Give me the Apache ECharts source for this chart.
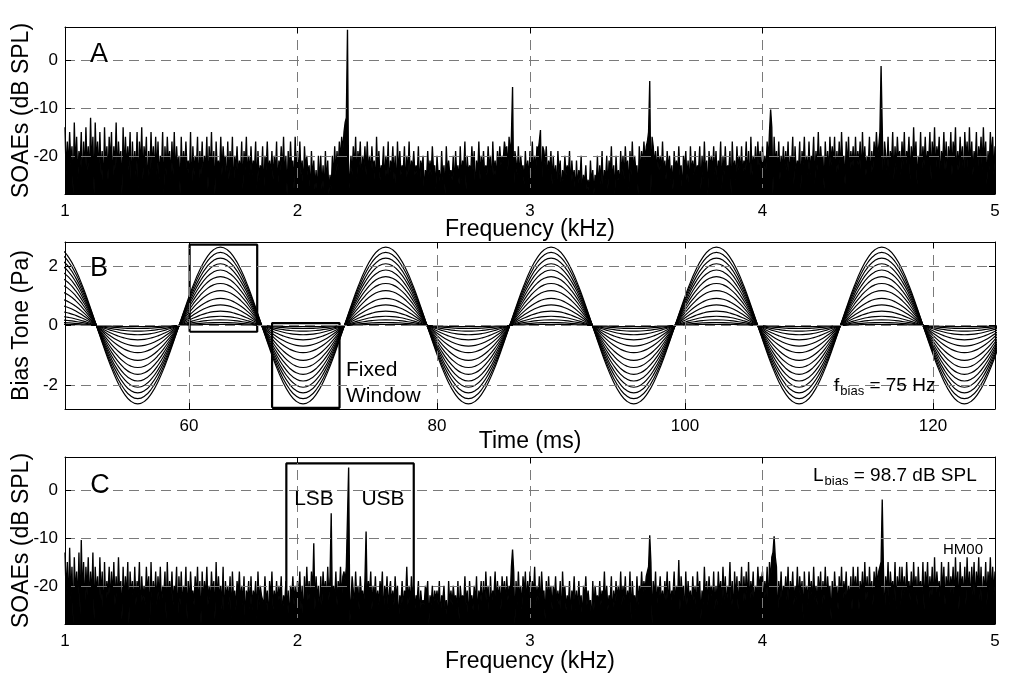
<!DOCTYPE html>
<html><head><meta charset="utf-8">
<script src="https://cdn.jsdelivr.net/npm/echarts@6/dist/echarts.min.js"></script>
<style>html,body{margin:0;padding:0;background:#fff}#c{width:1016px;height:680px}</style>
</head><body><div id="c"></div>
<script>
// ---------- data ----------
const freqTicksKHz = [1, 2, 3, 4, 5];
const dbTicks = [-20, -10, 0];
const timeTicksMs = [60, 80, 100, 120];
const paTicks = [-2, 0, 2];
const freqGridKHz = [2, 3, 4];
const timeGridMs = [60, 80, 100, 120];

// SOAE spectra: one row per 100 Hz, samples every 5 Hz, starting at 1 kHz (dB SPL)
const specStartKHz = 1.0, specRowKHz = 0.1, specStepKHz = 0.005;
const soaeA = [
[-14,-24,-17,-23,-15,-22,-18,-28,-13,-23,-16,-25,-19,-22,-15,-27,-17,-24,-14,-23],
[-18,-25,-12,-23,-16,-28,-13,-22,-17,-24,-15,-24,-19,-28,-14,-23,-18,-25,-16,-22],
[-15,-27,-18,-23,-13,-25,-17,-22,-19,-28,-14,-24,-16,-23,-18,-23,-15,-28,-17,-24],
[-19,-24,-15,-27,-17,-23,-14,-25,-18,-22,-16,-28,-19,-24,-15,-23,-18,-24,-16,-24],
[-17,-25,-20,-23,-15,-28,-18,-24,-16,-22,-19,-25,-17,-24,-15,-25,-18,-23,-20,-28],
[-16,-24,-19,-23,-17,-23,-21,-25,-15,-28,-18,-24,-20,-23,-16,-27,-19,-24,-17,-25],
[-20,-23,-16,-27,-18,-24,-15,-25,-19,-28,-17,-23,-21,-24,-16,-24,-18,-22,-20,-27],
[-17,-25,-19,-24,-16,-28,-20,-23,-18,-24,-21,-24,-17,-27,-19,-23,-16,-25,-20,-24],
[-18,-24,-21,-23,-17,-27,-19,-25,-22,-24,-18,-28,-20,-23,-17,-24,-21,-24,-19,-25],
[-20,-24,-17,-27,-21,-23,-18,-24,-16,-25,-20,-28,-19,-24,-17,-23,-21,-27,-16,-24],
[-19,-25,-17,-24,-21,-27,-18,-23,-20,-24,-22,-28,-19,-25,-21,-27,-23,-28,-20,-26],
[-20,-27,-22,-28,-19,-26,-21,-28,-24,-27,-20,-25,-18,-24,-19,-23,-17,-21,-16,-19],
[-15,-13,-12,6.4,-28,-28,-20,-24,-18,-23,-16,-25,-19,-22,-17,-26,-20,-23,-18,-24],
[-17,-24,-20,-24,-18,-23,-21,-27,-16,-24,-19,-25,-22,-23,-18,-26,-20,-24,-17,-27],
[-21,-23,-18,-25,-20,-28,-17,-24,-19,-24,-22,-23,-18,-27,-20,-24,-17,-25,-21,-23],
[-19,-24,-22,-24,-18,-27,-21,-23,-20,-28,-23,-25,-19,-24,-21,-24,-18,-23,-22,-27],
[-20,-24,-23,-27,-19,-25,-22,-28,-18,-24,-21,-24,-23,-25,-20,-27,-19,-24,-22,-26],
[-18,-25,-21,-23,-17,-27,-20,-24,-22,-24,-18,-23,-19,-28,-21,-24,-17,-25,-20,-23],
[-19,-24,-22,-24,-18,-23,-20,-27,-17,-24,-21,-25,-19,-23,-18,-22,-20,-21,-17,-19],
[-18,-23,-16,-20,-16,-5.6,-28,-19,-21,-24,-18,-25,-20,-23,-22,-26,-19,-24,-21,-25],
[-19,-24,-17,-24,-20,-23,-18,-19,-17,-14.6,-28,-18,-19,-22,-18,-25,-21,-23,-19,-26],
[-20,-25,-22,-27,-19,-24,-21,-28,-23,-25,-20,-24,-22,-24,-19,-27,-21,-25,-23,-28],
[-21,-27,-23,-25,-20,-28,-24,-26,-22,-27,-25,-28,-21,-26,-23,-28,-24,-26,-20,-27],
[-22,-26,-19,-28,-23,-25,-20,-27,-21,-24,-18,-26,-22,-28,-20,-25,-23,-27,-19,-24],
[-20,-25,-18,-23,-21,-27,-19,-24,-17,-24,-20,-23,-22,-28,-18,-24,-19,-22,-17,-21],
[-18,-17,-15,-4.3,-28,-16,-18,-22,-19,-24,-18,-23,-20,-24,-17,-24,-21,-25,-19,-23],
[-20,-25,-22,-27,-19,-23,-21,-24,-18,-24,-22,-28,-20,-23,-19,-25,-21,-27,-18,-24],
[-21,-24,-19,-24,-22,-23,-18,-27,-20,-25,-17,-24,-21,-28,-19,-23,-20,-24,-18,-24],
[-19,-25,-21,-23,-17,-27,-20,-24,-18,-24,-22,-23,-19,-28,-17,-24,-21,-25,-18,-23],
[-20,-24,-18,-24,-21,-23,-17,-25,-19,-27,-16,-24,-20,-23,-18,-24,-17,-22,-19,-25],
[-18,-24,-20,-23,-17,-21,-15,-10.3,-14,-28,-16,-22,-19,-24,-17,-25,-20,-23,-18,-24],
[-19,-23,-17,-25,-20,-22,-16,-26,-18,-24,-21,-23,-17,-27,-19,-22,-16,-24,-20,-24],
[-17,-24,-20,-22,-16,-26,-19,-23,-15,-24,-18,-22,-20,-27,-17,-23,-19,-24,-16,-22],
[-18,-22,-16,-25,-19,-23,-17,-24,-15,-22,-20,-26,-17,-23,-16,-24,-19,-22,-18,-24],
[-16,-23,-19,-22,-17,-25,-15,-23,-18,-24,-20,-22,-16,-26,-19,-23,-17,-21,-15,-20],
[-18,-15,-1.2,-14,-28,-17,-20,-23,-16,-24,-19,-22,-15,-25,-18,-23,-16,-21,-19,-24],
[-17,-22,-15,-24,-19,-21,-16,-25,-18,-23,-14,-22,-17,-26,-20,-23,-15,-24,-18,-22],
[-16,-23,-19,-21,-15,-25,-17,-22,-14,-24,-18,-21,-16,-26,-19,-22,-15,-23,-17,-25],
[-18,-22,-15,-24,-17,-21,-14,-25,-19,-23,-16,-22,-18,-27,-15,-21,-17,-24,-14,-23],
[-17,-24,-19,-22,-15,-25,-18,-21,-16,-23,-14,-22,-17,-26,-19,-23,-15,-21,-16,-24,-18]
];
const soaeC = [
[-13,-22,-15,-25,-12,-23,-16,-28,-14,-22,-17,-24,-13,-26,-10.4,-23,-15,-25,-16,-22],
[-14,-24,-17,-23,-13,-27,-16,-22,-18,-25,-14,-23,-17,-28,-15,-24,-19,-22,-16,-24],
[-17,-23,-15,-24,-18,-24,-14,-22,-19,-27,-16,-24,-18,-23,-15,-28,-17,-22,-19,-25],
[-16,-24,-19,-22,-15,-27,-18,-23,-20,-24,-16,-22,-18,-28,-15,-24,-19,-23,-17,-24],
[-18,-23,-16,-25,-20,-22,-17,-27,-15,-24,-19,-23,-17,-24,-20,-22,-16,-28,-18,-24],
[-17,-25,-20,-23,-16,-27,-19,-24,-17,-22,-21,-24,-18,-23,-16,-25,-19,-28,-17,-24],
[-19,-23,-16,-24,-20,-24,-17,-22,-19,-27,-15,-24,-18,-23,-20,-25,-16,-28,-19,-23],
[-20,-24,-18,-27,-17,-23,-21,-25,-19,-22,-17,-24,-20,-24,-18,-28,-21,-23,-19,-25],
[-18,-25,-21,-23,-19,-27,-17,-24,-20,-22,-22,-24,-18,-24,-21,-28,-19,-23,-17,-25],
[-21,-24,-19,-24,-20,-23,-18,-27,-22,-24,-19,-25,-21,-28,-20,-23,-18,-24,-20,-24],
[-19,-23,-17,-25,-20,-28,-18,-24,-16,-23,-19,-24,-17,-22,-11.1,-25,-18,-23,-20,-27],
[-18,-24,-17,-22,-19,-24,-16,-23,-18,-4.8,-25,-20,-23,-17,-24,-19,-22,-16,-23,-18],
[-17,-19,-16,-16,4.8,-28,-28,-18,-21,-24,-17,-23,-20,-25,-18,-22,-21,-24,-19,-8.6],
[-24,-19,-22,-17,-25,-20,-23,-18,-24,-21,-24,-19,-22,-17,-27,-20,-23,-18,-25,-21],
[-19,-24,-21,-24,-18,-23,-20,-28,-22,-24,-19,-25,-21,-23,-16,-24,-20,-24,-18,-22],
[-20,-25,-22,-23,-19,-27,-21,-24,-23,-24,-20,-22,-19,-28,-22,-24,-20,-25,-21,-23],
[-21,-24,-19,-27,-22,-23,-20,-25,-23,-28,-19,-24,-21,-24,-20,-23,-22,-25,-19,-27],
[-20,-23,-22,-24,-18,-24,-21,-28,-19,-23,-22,-25,-20,-24,-18,-27,-21,-23,-19,-25],
[-19,-25,-17,-23,-20,-27,-18,-24,-21,-22,-17,-24,-19,-23,-20,-25,-18,-22,-19,-24],
[-18,-23,-20,-22,-16,-12.4,-17,-28,-19,-24,-17,-23,-20,-25,-18,-22,-17,-24,-19,-23],
[-17,-24,-19,-22,-16,-24,-20,-23,-18,-25,-17,-22,-21,-27,-19,-24,-18,-23,-20,-25],
[-20,-23,-18,-24,-21,-24,-19,-28,-17,-23,-20,-25,-22,-24,-19,-27,-21,-23,-18,-25],
[-21,-25,-19,-24,-22,-27,-20,-23,-18,-24,-21,-24,-23,-28,-19,-25,-20,-23,-22,-24],
[-19,-24,-21,-23,-17,-24,-20,-25,-22,-23,-18,-27,-21,-24,-19,-23,-20,-24,-17,-24],
[-20,-23,-18,-25,-21,-24,-17,-27,-19,-23,-22,-25,-18,-24,-20,-23,-17,-22,-19,-21],
[-18,-17,-16,-9.4,-15,-28,-19,-23,-17,-25,-20,-22,-18,-24,-21,-24,-19,-23,-17,-25],
[-19,-24,-21,-22,-17,-24,-20,-23,-14.6,-25,-18,-22,-20,-27,-17,-24,-19,-23,-21,-25],
[-18,-23,-20,-25,-17,-22,-19,-27,-21,-24,-16,-23,-19,-24,-18,-22,-20,-24,-17,-25],
[-20,-24,-17,-22,-19,-24,-16,-23,-18,-25,-20,-22,-15,-24,-19,-27,-17,-23,-18,-25],
[-19,-22,-16,-25,-18,-23,-17,-24,-15,-24,-19,-22,-17,-25,-20,-23,-16,-21,-18,-19],
[-17,-24,-19,-22,-16,-25,-15,-19,-14,-13,-9.6,-14,-16,-28,-19,-23,-17,-24,-20,-22],
[-18,-23,-16,-25,-19,-22,-17,-24,-20,-23,-16,-24,-18,-22,-19,-27,-17,-23,-20,-24],
[-17,-22,-19,-24,-16,-23,-20,-24,-18,-22,-17,-25,-19,-23,-16,-24,-18,-22,-20,-27],
[-19,-24,-17,-22,-20,-25,-18,-23,-16,-24,-19,-22,-17,-24,-20,-23,-18,-25,-16,-22],
[-18,-23,-16,-25,-19,-22,-17,-24,-15,-23,-18,-24,-16,-22,-19,-24,-17,-21,-16,-20],
[-17,-16,-15,-1.9,-16,-28,-18,-22,-15,-24,-17,-21,-19,-23,-15,-25,-18,-22,-16,-24],
[-16,-22,-18,-24,-15,-21,-19,-23,-17,-24,-15,-22,-18,-24,-16,-21,-19,-23,-15,-25],
[-17,-21,-15,-24,-18,-22,-16,-25,-14,-23,-17,-21,-19,-24,-15,-22,-16,-24,-18,-22],
[-15,-23,-18,-21,-16,-24,-14,-22,-17,-25,-15,-21,-18,-23,-16,-24,-14,-22,-17,-24],
[-16,-22,-15,-24,-17,-21,-14,-23,-16,-25,-18,-22,-15,-24,-17,-21,-14,-23,-16,-22,-17]
];

// Bias tone (panel B)
const fBiasHz = 75;
const biasPeakTimeMs = 49.2;             // first crest seen at the left edge
const biasCycleShape = [1,0.966,0.866,0.707,0.5,0.259,0,-0.259,-0.5,-0.707,-0.866,-0.966,
                        -1,-0.966,-0.866,-0.707,-0.5,-0.259,0,0.259,0.5,0.707,0.866,0.966];
const biasAmpPa = [2.63,2.45,2.26,2.07,1.86,1.64,1.41,1.17,0.91,0.69,0.48,0.31,0.19,0.1,0.04];
const fixedWindows = [[60.05,65.5,-0.21,2.71],[66.7,72.14,-2.76,0.08]]; // [t0,t1,p0,p1]
const sidebandBox = [1.952,2.5,-27.6,5.66];                              // [f0,f1,dB0,dB1]

// ---------- build ----------
const FONT = '"Liberation Sans", Arial, Helvetica, sans-serif';
const periodMs = 1000 / fBiasHz;

function specPoints(rows){
  const pts = [];
  rows.forEach((row, r) => row.forEach((v, i) => pts.push([specStartKHz + r*specRowKHz + i*specStepKHz, v])));
  return pts;
}
function boxPoints(b){ return [[b[0],b[2]],[b[1],b[2]],[b[1],b[3]],[b[0],b[3]],[b[0],b[2]]]; }
function wavePoints(amp){
  const pts = [], n = biasCycleShape.length;
  for (let k = 0; ; k++) {
    const t = biasPeakTimeMs + k*periodMs/n;
    if (t > 126) break;
    pts.push([t, amp*biasCycleShape[k % n]]);
  }
  return pts;
}

const grids = [
  {left:65, top:27, width:930, height:167},
  {left:65, top:242, width:930, height:167},
  {left:65, top:457, width:930, height:167}
];
const nameGapsX = [24, 21, 26];
const axisLineStyle = {color:'#000', width:1};
function xAxes(gi, min, max, ticks, name){
  return [
    {type:'value', gridIndex:gi, min, max, position:'bottom', z:10,
     axisLine:{show:true, onZero:false, lineStyle:axisLineStyle},
     axisTick:{show:true, inside:true, length:6, customValues:ticks, lineStyle:axisLineStyle},
     axisLabel:{show:true, customValues:ticks, fontSize:17, color:'#000', fontFamily:FONT, margin:9},
     splitLine:{show:false},
     name, nameLocation:'middle', nameGap:nameGapsX[gi], nameMoveOverlap:false,
     nameTextStyle:{fontSize:23, color:'#000', fontFamily:FONT}},
    {type:'value', gridIndex:gi, min, max, position:'top', z:10,
     axisLine:{show:true, onZero:false, lineStyle:axisLineStyle},
     axisTick:{show:true, inside:true, length:6, customValues:ticks, lineStyle:axisLineStyle},
     axisLabel:{show:false}, splitLine:{show:false}}
  ];
}
function yAxes(gi, min, max, ticks, name){
  return [
    {type:'value', gridIndex:gi, min, max, position:'left', z:10,
     axisLine:{show:true, onZero:false, lineStyle:axisLineStyle},
     axisTick:{show:true, inside:true, length:6, customValues:ticks, lineStyle:axisLineStyle},
     axisLabel:{show:true, customValues:ticks, fontSize:17, color:'#000', fontFamily:FONT, margin:7},
     splitLine:{show:false},
     name, nameLocation:'middle', nameGap:32, nameMoveOverlap:false,
     nameTextStyle:{fontSize:23, color:'#000', fontFamily:FONT}},
    {type:'value', gridIndex:gi, min, max, position:'right', z:10,
     axisLine:{show:true, onZero:false, lineStyle:axisLineStyle},
     axisTick:{show:true, inside:true, length:6, customValues:ticks, lineStyle:axisLineStyle},
     axisLabel:{show:false}, splitLine:{show:false}}
  ];
}
function gridLines(xs, ys){
  return {silent:true, symbol:['none','none'], animation:false,
    label:{show:false},
    lineStyle:{color:'#7a7a7a', width:1, type:[10,6]},
    emphasis:{disabled:true},
    data: xs.map(v => ({xAxis:v})).concat(ys.map(v => ({yAxis:v})))};
}
function noiseSeries(rows, xi, yi, ticksX, ticksY){
  return {type:'line', xAxisIndex:xi, yAxisIndex:yi, data:specPoints(rows),
    symbol:'none', silent:true, animation:false, clip:true, z:1,
    lineStyle:{color:'#000', width:1.35},
    areaStyle:{color:'#000', opacity:1, origin:'start'},
    markLine:gridLines(ticksX, ticksY)};
}

const series = [];
series.push(noiseSeries(soaeA, 0, 0, freqGridKHz, dbTicks));
biasAmpPa.forEach((a, i) => series.push({
  type:'line', xAxisIndex:2, yAxisIndex:2, data:wavePoints(a), smooth:true,
  symbol:'none', silent:true, animation:false, clip:true, z:2,
  lineStyle:{color:'#000', width:1.15},
  markLine: i === 0 ? gridLines(timeGridMs, paTicks) : undefined
}));
fixedWindows.forEach(b => series.push({
  type:'line', xAxisIndex:2, yAxisIndex:2, data:boxPoints(b), symbol:'none',
  silent:true, animation:false, z:3, lineStyle:{color:'#000', width:2.2}
}));
series.push(noiseSeries(soaeC, 4, 4, freqGridKHz, dbTicks));
series.push({type:'line', xAxisIndex:4, yAxisIndex:4, data:boxPoints(sidebandBox), symbol:'none',
  silent:true, animation:false, z:3, lineStyle:{color:'#000', width:2.2}});

function txt(x, y, text, size, align){
  return {type:'text', x, y, z:100, silent:true,
    style:{text, fill:'#000', font:size + 'px ' + FONT, align:align || 'left', verticalAlign:'middle',
           textAlign:align || 'left', textVerticalAlign:'middle'}};
}
function subTxt(x, y, main, sub, rest, size){
  return {type:'text', x, y, z:100, silent:true,
    style:{text:'{m|' + main + '}{s|' + sub + '}{m|' + rest + '}', fill:'#000',
      font:size + 'px ' + FONT, align:'left', verticalAlign:'middle',
      rich:{m:{fontSize:size, fontFamily:FONT, fill:'#000', color:'#000'},
            s:{fontSize:Math.round(size*0.68), fontFamily:FONT, fill:'#000', color:'#000', padding:[11,0,0,1]}}}};
}

const option = {
  animation:false,
  backgroundColor:'#fff',
  grid:grids.map(g => Object.assign({show:false, containLabel:false, outerBoundsMode:'none'}, g)),
  xAxis:[].concat(xAxes(0,1,5,freqTicksKHz,'Frequency (kHz)'), xAxes(1,50,125,timeTicksMs,'Time (ms)'), xAxes(2,1,5,freqTicksKHz,'Frequency (kHz)')),
  yAxis:[].concat(yAxes(0,-28,7,dbTicks,'SOAEs (dB SPL)'), yAxes(1,-2.8,2.8,paTicks,'Bias Tone (Pa)'), yAxes(2,-28,7,dbTicks,'SOAEs (dB SPL)')),
  series,
  graphic:[
    txt(99, 55, 'A', 27, 'center'),
    txt(99, 269, 'B', 27, 'center'),
    txt(100, 486, 'C', 27, 'center'),
    txt(346, 370, 'Fixed', 21),
    txt(346, 396, 'Window', 21),
    subTxt(834, 386, 'f', 'bias', ' = 75 Hz', 19),
    subTxt(813, 476, 'L', 'bias', ' = 98.7 dB SPL', 19),
    txt(963, 550, 'HM00', 15, 'center'),
    txt(314, 499, 'LSB', 21, 'center'),
    txt(383, 499, 'USB', 21, 'center')
  ]
};
const chart = echarts.init(document.getElementById('c'), null, {renderer:'canvas'});
chart.setOption(option);
</script></body></html>
